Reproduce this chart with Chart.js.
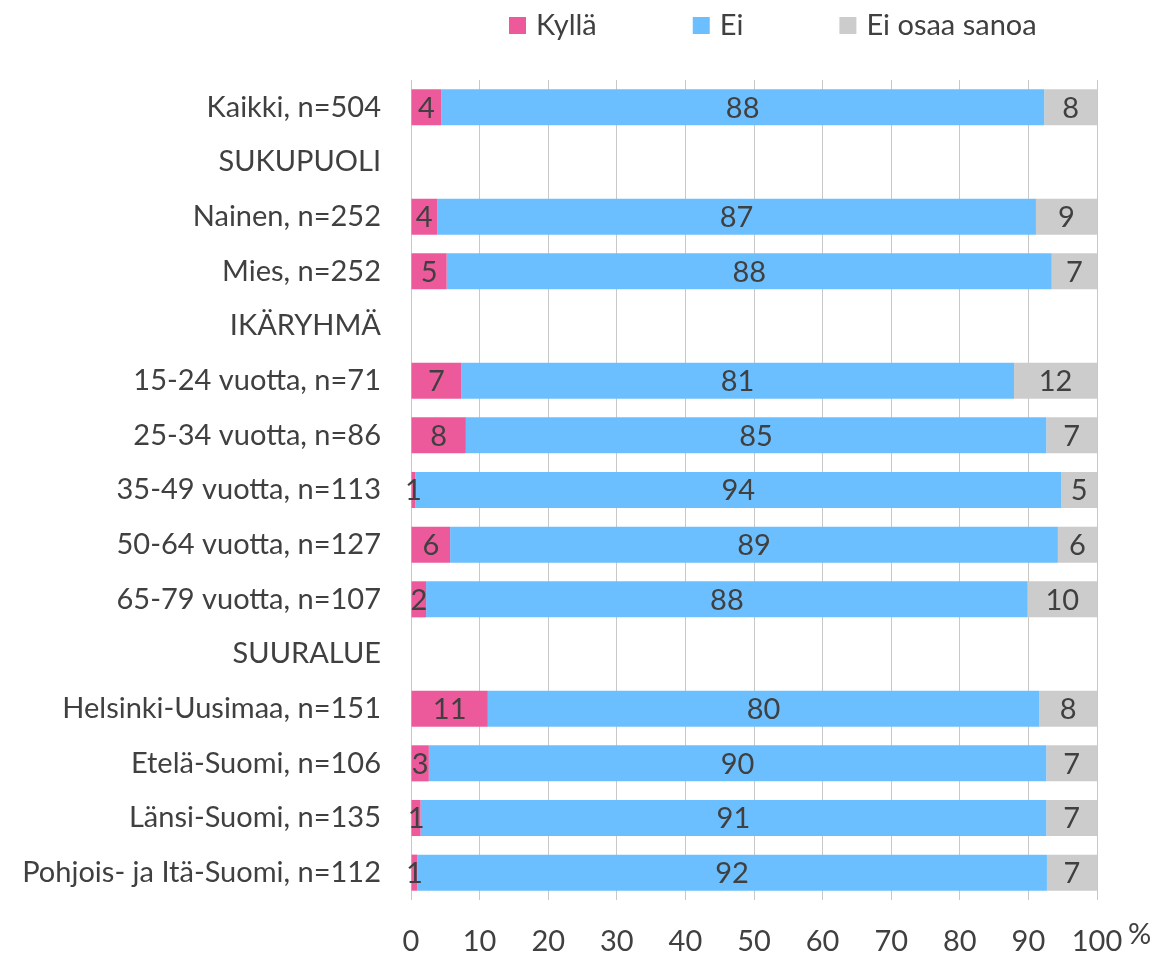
<!DOCTYPE html>
<html>
<head>
<meta charset="utf-8">
<script src="https://cdn.jsdelivr.net/npm/chart.js@4"></script>
<style>
html,body{margin:0;padding:0;background:#fff;}
canvas{display:block;}
</style>
</head>
<body>
<canvas id="c" width="1155" height="954"></canvas>
<script>
const categories = ["Kaikki, n=504","SUKUPUOLI","Nainen, n=252","Mies, n=252","IKÄRYHMÄ","15-24 vuotta, n=71","25-34 vuotta, n=86","35-49 vuotta, n=113","50-64 vuotta, n=127","65-79 vuotta, n=107","SUURALUE","Helsinki-Uusimaa, n=151","Etelä-Suomi, n=106","Länsi-Suomi, n=135","Pohjois- ja Itä-Suomi, n=112"];
const seriesNames = ["Kyllä","Ei","Ei osaa sanoa"];
const kylla = [4.4,null,3.8,5.2,null,7.3,8.0,0.6,5.7,2.2,null,11.2,2.6,1.4,0.9];
const ei    = [87.9,null,87.3,88.2,null,80.6,84.6,94.2,88.6,87.7,null,80.4,90.0,91.2,91.8];
const eos   = [7.7,null,8.9,6.6,null,12.1,7.4,5.2,5.7,10.1,null,8.4,7.4,7.4,7.3];
const kyllaLabels = ["4","","4","5","","7","8","1","6","2","","11","3","1","1"];
const eiLabels    = ["88","","87","88","","81","85","94","89","88","","80","90","91","92"];
const eosLabels   = ["8","","9","7","","12","7","5","6","10","","8","7","7","7"];
const xTicks = [0,10,20,30,40,50,60,70,80,90,100];
const axisUnit = "%";

const FONT = "Lato";
const FS = 29;
const TXT = "#404040";
const colors = ["#EC5A9C","#6BBFFF","#CCCCCC"];
const allLabels = [kyllaLabels, eiLabels, eosLabels];

const labelPlugin = {
  id: 'segLabels',
  afterDatasetsDraw(chart) {
    const ctx = chart.ctx;
    ctx.save();
    ctx.font = FS + "px " + FONT;
    ctx.fillStyle = TXT;
    ctx.textAlign = "center";
    ctx.textBaseline = "middle";
    chart.data.datasets.forEach((ds, di) => {
      const meta = chart.getDatasetMeta(di);
      meta.data.forEach((bar, i) => {
        const t = allLabels[di][i];
        if (!t || ds.data[i] == null) return;
        const cx = (bar.x + bar.base) / 2;
        ctx.fillText(t, cx, bar.y + 1);
      });
    });
    ctx.restore();
  },
  afterDraw(chart) {
    const ctx = chart.ctx;
    ctx.save();
    ctx.font = FS + "px " + FONT;
    ctx.textBaseline = "middle";
    ctx.textAlign = "left";
    // legend
    let x = 509;
    const yc = 25;
    seriesNames.forEach((n, i) => {
      ctx.fillStyle = colors[i];
      ctx.fillRect(x, yc - 8, 17, 17);
      ctx.fillStyle = TXT;
      ctx.fillText(n, x + 27, yc + 1);
      x = x + 27 + ctx.measureText(n).width + 96;
    });
    // axis unit
    const xs = chart.scales.x;
    ctx.fillText(axisUnit, xs.right + 31, 935);
    ctx.restore();
  }
};

new Chart(document.getElementById('c'), {
  type: 'bar',
  data: {
    labels: categories,
    datasets: [
      {label: seriesNames[0], data: kylla, backgroundColor: colors[0]},
      {label: seriesNames[1], data: ei, backgroundColor: colors[1]},
      {label: seriesNames[2], data: eos, backgroundColor: colors[2]}
    ]
  },
  options: {
    indexAxis: 'y',
    responsive: false,
    animation: false,
    events: [],
    layout: {padding: {top: 80, right: 58, left: 10, bottom: 0}},
    datasets: {bar: {barPercentage: 0.66, categoryPercentage: 1.0, borderWidth: 0}},
    plugins: {legend: {display: false}, tooltip: {enabled: false}},
    scales: {
      x: {
        stacked: true, min: 0, max: 100,
        afterBuildTicks(s) { s.ticks = xTicks.map(v => ({value: v})); },
        afterFit(s) { s.height = 54; },
        ticks: {color: TXT, font: {family: FONT, size: FS}, padding: 24, maxRotation: 0, autoSkip: false},
        grid: {color: "#C8C8C8", lineWidth: 1, drawTicks: false},
        border: {display: false}
      },
      y: {
        stacked: true,
        afterFit(s) { s.width = 401; },
        ticks: {color: TXT, font: {family: FONT, size: FS}, padding: 30, autoSkip: false},
        grid: {display: false, drawTicks: false},
        border: {display: false}
      }
    }
  },
  plugins: [labelPlugin]
});
</script>
</body>
</html>
